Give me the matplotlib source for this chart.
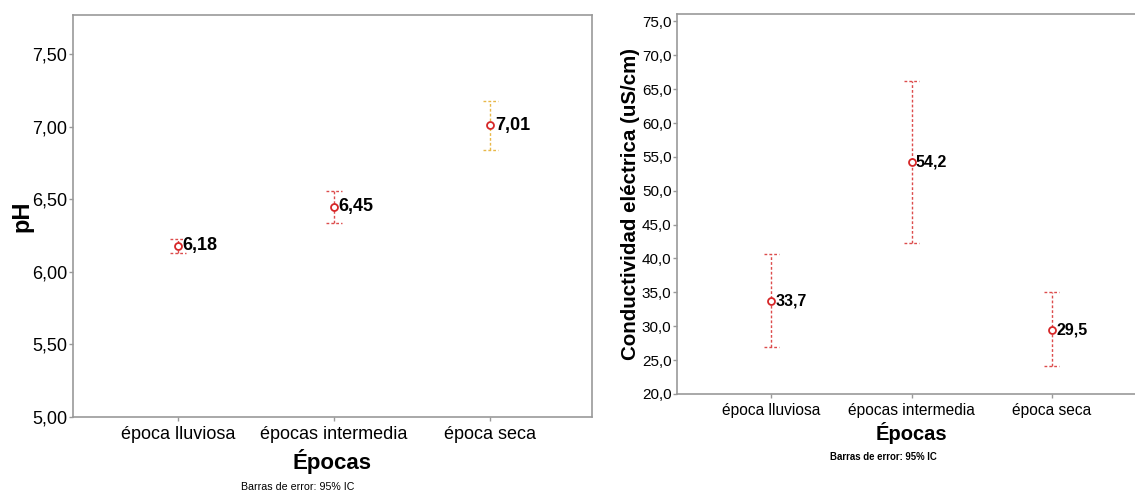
import matplotlib.pyplot as plt
import numpy as np

plt.rcParams['font.family'] = ['Liberation Sans', 'DejaVu Sans']

# datos
epocas = ['época lluviosa', 'épocas intermedia', 'época seca']
ph_media = [6.18, 6.45, 7.01]
ph_inf = [6.13, 6.34, 6.84]
ph_sup = [6.23, 6.56, 7.18]
ph_etiquetas = ['6,18', '6,45', '7,01']
ph_colores = ['#dc4c4c', '#dc4c4c', '#e8b84a']

ce_media = [33.7, 54.2, 29.5]
ce_inf = [26.9, 42.3, 24.1]
ce_sup = [40.6, 66.2, 35.0]
ce_etiquetas = ['33,7', '54,2', '29,5']
ce_colores = ['#dc4c4c', '#dc4c4c', '#dc4c4c']

ph_ticks = [5.0, 5.5, 6.0, 6.5, 7.0, 7.5]
ce_ticks = [20, 25, 30, 35, 40, 45, 50, 55, 60, 65, 70, 75]

fig = plt.figure(figsize=(11.35, 4.91), dpi=100)
ax1 = fig.add_axes([0.0643, 0.1507, 0.4573, 0.8187])
ax2 = fig.add_axes([0.5965, 0.1976, 0.4132, 0.774])

guion = (0, (2, 1.5))


def grafico(ax, media, inf, sup, etiquetas, colores, ancho, fs_val, dx):
    x = np.arange(len(media))
    for i in range(len(media)):
        ax.vlines(x[i], inf[i], sup[i], colors=colores[i], lw=1.0, linestyles=guion)
        ax.hlines([inf[i], sup[i]], x[i] - ancho, x[i] + ancho, colors=colores[i],
                  lw=1.0, linestyles=guion)
        ax.plot(x[i], media[i], marker='o', ms=5, mfc='white', mec='#d62728',
                mew=1.3, ls='')
        ax.text(x[i] + dx, media[i], etiquetas[i], fontsize=fs_val,
                fontweight='bold', va='center', ha='left')


grafico(ax1, ph_media, ph_inf, ph_sup, ph_etiquetas, ph_colores, 0.05, 13, 0.03)
ax1.set_xlim(-0.67, 2.65)
ax1.set_ylim(5.0, 7.77)
ax1.set_yticks(ph_ticks)
ax1.set_yticklabels([f'{t:.2f}'.replace('.', ',') for t in ph_ticks], fontsize=13)
ax1.set_xticks(range(3))
ax1.set_xticklabels(epocas, fontsize=13)
ax1.set_ylabel('pH', fontsize=17, fontweight='bold', labelpad=-1)
ax1.set_xlabel('Épocas', fontsize=16, fontweight='bold', labelpad=4)
fig.text(298 / 1135, 1 - 487 / 491, 'Barras de error: 95% IC',
         ha='center', va='center', fontsize=7.7)

grafico(ax2, ce_media, ce_inf, ce_sup, ce_etiquetas, ce_colores, 0.053, 11.5, 0.03)
ax2.set_xlim(-0.67, 2.67)
ax2.set_ylim(20, 76.1)
ax2.set_yticks(ce_ticks)
ax2.set_yticklabels([f'{t:.1f}'.replace('.', ',') for t in ce_ticks], fontsize=11)
ax2.set_xticks(range(3))
ax2.set_xticklabels(epocas, fontsize=11.2)
ax2.set_ylabel('Conductividad eléctrica (uS/cm)', fontsize=14.8, fontweight='bold', labelpad=1)
ax2.set_xlabel('Épocas', fontsize=14.5, fontweight='bold', labelpad=3)
fig.text(883 / 1135, 1 - 457 / 491, 'Barras de error: 95% IC',
         ha='center', va='center', fontsize=6.9, fontweight='bold')

for ax in (ax1, ax2):
    for s in ax.spines.values():
        s.set_color('#999999')
        s.set_linewidth(1.2)
    ax.tick_params(axis='both', colors='#999999', labelcolor='black', length=3, width=1)
    ax.tick_params(axis='y', pad=1)
ax2.spines['right'].set_visible(False)

fig.savefig('out.png', dpi=100)
